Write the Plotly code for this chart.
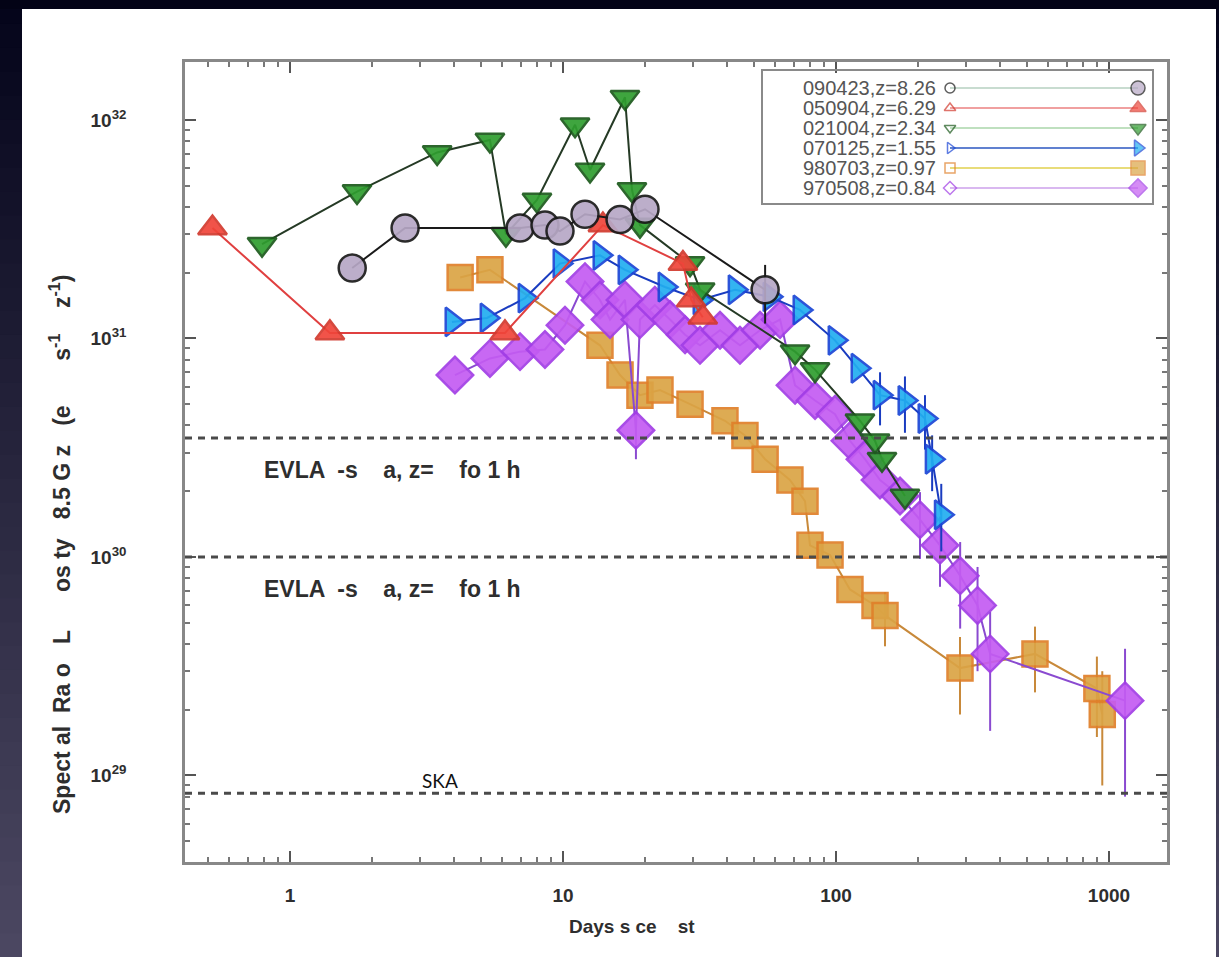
import plotly.graph_objects as go
import numpy as np

# ---------------- data (days since burst, spectral luminosity erg/s/Hz) ----------------
grb_090423_t = [1.69, 2.64, 6.96, 8.59, 9.75, 12.04, 16.18, 19.97, 55.0]
grb_090423_L = [2.1e31, 3.2e31, 3.2e31, 3.3e31, 3.1e31, 3.7e31, 3.5e31, 3.9e31, 1.67e31]
grb_090423_eu = [0, 0, 0, 0, 0, 0, 0, 0, 0.5e31]
grb_090423_ed = [0, 0, 0, 0, 0, 0, 0, 0, 0.5e31]

grb_050904_t = [0.52, 1.40, 6.13, 14.0, 27.5, 29.5, 32.5]
grb_050904_L = [3.2e31, 1.06e31, 1.06e31, 3.3e31, 2.2e31, 1.5e31, 1.25e31]

grb_021004_t = [0.79, 1.76, 3.46, 5.40, 6.18, 8.03, 11.07, 12.56, 16.87, 17.89, 19.14,
                29.2, 31.8, 70.8, 83.8, 122.4, 139.0, 147.4, 178.9]
grb_021004_L = [2.7e31, 4.7e31, 7.1e31, 8.1e31, 3.0e31, 4.3e31, 9.5e31, 5.9e31, 1.27e32, 4.8e31, 3.3e31,
                2.2e31, 1.67e31, 8.7e30, 7.2e30, 4.2e30, 3.4e30, 2.8e30, 1.9e30]

grb_070125_t = [3.92, 5.27, 7.26, 9.75, 13.66, 16.87, 23.64, 31.76, 42.7, 57.3, 73.8,
                99.2, 120.4, 145.0, 178.9, 211.8, 225.0, 243.0]
grb_070125_L = [1.19e31, 1.24e31, 1.53e31, 2.2e31, 2.4e31, 2.06e31, 1.72e31, 1.5e31, 1.67e31, 1.55e31, 1.35e31,
                9.8e30, 7.3e30, 5.5e30, 5.2e30, 4.3e30, 2.8e30, 1.56e30]
grb_070125_eu = [0, 0, 0, 0, 0, 0, 0, 0, 0, 0, 0, 0, 0, 1.5e30, 1.5e30, 1.2e30, 0.8e30, 0.6e30]
grb_070125_ed = [0, 0, 0, 0, 0, 0, 0, 0, 0, 0, 0, 0, 0, 1.5e30, 1.5e30, 1.2e30, 0.8e30, 0.5e30]

grb_980703_t = [4.20, 5.40, 13.66, 16.18, 19.14, 22.66, 29.2, 39.2, 46.4, 55.0, 67.8,
                77.0, 80.3, 95.1, 112.5, 139.0, 151.2, 284.6, 535.7, 903.0, 945.0]
grb_980703_L = [1.9e31, 2.06e31, 9.3e30, 6.8e30, 5.5e30, 5.8e30, 5.0e30, 4.2e30, 3.6e30, 2.8e30, 2.25e30,
                1.8e30, 1.13e30, 1.02e30, 7.1e29, 6.0e29, 5.4e29, 3.1e29, 3.6e29, 2.5e29, 1.9e29]
grb_980703_eu = [0, 0, 0, 0, 0, 0, 0, 0, 0, 0, 0,
                 0, 0, 0, 0, 0, 1.5e29, 1.2e29, 1.2e29, 1.0e29, 1.1e29]
grb_980703_ed = [0, 0, 0, 0, 0, 0, 0, 0, 0, 0, 0,
                 0, 0, 0, 0, 0, 1.5e29, 1.2e29, 1.2e29, 1.0e29, 1.0e29]

grb_970508_t = [4.02, 5.40, 6.96, 8.59, 10.17, 12.04, 13.66, 14.87, 16.87, 18.5, 19.14, 21.7,
                24.66, 28.0, 31.76, 37.6, 44.5, 52.7, 62.4, 70.8, 83.8, 99.2,
                112.5, 127.7, 145.0, 171.6, 203.1, 240.4, 285.0, 330.0, 367.0, 1145.0]
grb_970508_L = [6.8e30, 8.1e30, 8.7e30, 8.9e30, 1.15e31, 1.82e31, 1.5e31, 1.22e31, 1.5e31, 3.8e30, 1.22e31, 1.42e31,
                1.22e31, 1.04e31, 9.3e30, 1.09e31, 9.3e30, 1.09e31, 1.22e31, 6.1e30, 5.2e30, 4.5e30,
                3.4e30, 2.8e30, 2.25e30, 1.9e30, 1.48e30, 1.13e30, 8.2e29, 6.0e29, 3.6e29, 2.2e29]
grb_970508_eu = [0] * 9 + [0.8e30] + [0] * 16 + [0.5e30, 0.4e30, 0.35e30, 0.3e30, 0.2e30, 1.6e29]
grb_970508_ed = [0] * 9 + [1.0e30] + [0] * 16 + [0.5e30, 0.4e30, 0.35e30, 0.3e30, 0.2e30, 1.4e29]

# sensitivity limits
limit_values = [3.5e30, 1.0e30, 8.3e28]
limit_labels = ["EVLA  -s    a, z=    fo 1 h", "EVLA  -s    a, z=    fo 1 h", ""]

legend_labels = ["090423,z=8.26", "050904,z=6.29", "021004,z=2.34",
                 "070125,z=1.55", "980703,z=0.97", "970508,z=0.84"]

y_tick_vals = [1e29, 1e30, 1e31, 1e32]
y_tick_text = ["10<sup>29</sup>", "10<sup>30</sup>", "10<sup>31</sup>", "10<sup>32</sup>"]
x_tick_vals = [1, 10, 100, 1000]
x_tick_text = ["1", "10", "100", "1000"]

x_title = "Days s ce    st"
y_title = ("Spect al  Ra o   L      os ty   8.5 G z   (e       "
           "s<sup>-1</sup>    z<sup>-1</sup>)")

# ---------------- styles ----------------
series = [
    # name, t, L, eu, ed, symbol, fill, edge, line color, size, legend line color
    ("980703", grb_980703_t, grb_980703_L, grb_980703_eu, grb_980703_ed, "square", "#dba445", "#e0802a", "#c8893a", 25, "#e8dc7a"),
    ("970508", grb_970508_t, grb_970508_L, grb_970508_eu, grb_970508_ed, "diamond", "#c45cf2", "#a23ee6", "#8a4ad0", 28, "#d9b8f0"),
    ("070125", grb_070125_t, grb_070125_L, grb_070125_eu, grb_070125_ed, "triangle-right", "#22aef0", "#1b46d6", "#1a3cc0", 25, "#6080d0"),
    ("021004", grb_021004_t, grb_021004_L, None, None, "triangle-down", "#2f9e2f", "#1c5a1c", "#253a25", 25, "#bfe0bf"),
    ("050904", grb_050904_t, grb_050904_L, None, None, "triangle-up", "#f0453a", "#d23a2e", "#e04040", 25, "#f0a0a0"),
    ("090423", grb_090423_t, grb_090423_L, grb_090423_eu, grb_090423_ed, "circle", "#b7a8c6", "#1a1a1a", "#1a1a1a", 27, "#c8dcd0"),
]
legend_order = ["090423", "050904", "021004", "070125", "980703", "970508"]

fig = go.Figure()

for name, t, L, eu, ed, sym, fill, edge, lc, size, _ in series:
    err = None
    if eu is not None:
        err = dict(type="data", symmetric=False, array=eu, arrayminus=ed,
                   color=lc, thickness=2, width=0)
    fig.add_trace(go.Scatter(
        x=t, y=L, mode="lines+markers", name=name,
        line=dict(color=lc, width=2),
        marker=dict(symbol=sym, size=size, color=fill, line=dict(color=edge, width=2.5), opacity=0.92),
        error_y=err, showlegend=False, hoverinfo="skip"))

# ---------------- pixel helpers for decorations ----------------
PX0, PW = 185.0, 982.0
PY1, PH = 862.0, 800.0
def px_to_paper_x(p):
    return (p - PX0) / PW
def px_to_paper_y(p):
    return (PY1 - p) / PH

# ---------------- custom legend (IDL style: label, symbol, line, symbol) ----------------
legend_rows_px = [88, 108, 128, 148, 168, 188]
style_by_name = {s[0]: s for s in series}
annotations = []
for i, name in enumerate(legend_order):
    s = style_by_name[name]
    yy = px_to_paper_y(legend_rows_px[i])
    fig.add_trace(go.Scatter(
        x=[px_to_paper_x(950), px_to_paper_x(1138)], y=[yy, yy],
        xaxis="x2", yaxis="y2", mode="lines+markers",
        line=dict(color=s[10], width=2),
        marker=dict(symbol=s[5], size=[10, 14], color=["rgba(0,0,0,0)", s[6]],
                    line=dict(color=s[7], width=1.5)),
        showlegend=False, hoverinfo="skip"))
    annotations.append(dict(x=px_to_paper_x(938), y=yy, xref="paper", yref="paper",
                            text=legend_labels[i], showarrow=False, xanchor="right", yanchor="middle",
                            font=dict(family="Liberation Sans", size=20, color="#555555")))

shapes = []
shapes.append(dict(type="rect", xref="paper", yref="paper",
                   x0=px_to_paper_x(762), x1=px_to_paper_x(1153),
                   y0=px_to_paper_y(204), y1=px_to_paper_y(70),
                   line=dict(color="#8a8a8a", width=2), fillcolor="rgba(0,0,0,0)", layer="above"))

# sensitivity lines
for v in limit_values:
    shapes.append(dict(type="line", xref="paper", yref="y", x0=0, x1=1, y0=v, y1=v,
                       line=dict(color="#4a4a4a", width=3, dash="7px,6px"), layer="above"))

# slide dark borders (gradient in strips)
def lerp(c1, c2, f):
    return "rgb(%d,%d,%d)" % tuple(int(round(a + (b - a) * f)) for a, b in zip(c1, c2))
top_col = (4, 4, 26)
bot_col = (76, 72, 98)
nstrip = 40
for k in range(nstrip):
    f0 = k / nstrip
    f1 = (k + 1) / nstrip
    y0p = px_to_paper_y(957 * f1 + 1)
    y1p = px_to_paper_y(957 * f0)
    col = lerp(top_col, bot_col, (k + 0.5) / nstrip)
    shapes.append(dict(type="rect", xref="paper", yref="paper",
                       x0=px_to_paper_x(0), x1=px_to_paper_x(22), y0=y0p, y1=y1p,
                       line=dict(width=0), fillcolor=col, layer="below"))
    shapes.append(dict(type="rect", xref="paper", yref="paper",
                       x0=px_to_paper_x(1216), x1=px_to_paper_x(1220), y0=y0p, y1=y1p,
                       line=dict(width=0), fillcolor=col, layer="below"))
shapes.append(dict(type="rect", xref="paper", yref="paper",
                   x0=px_to_paper_x(0), x1=px_to_paper_x(1220),
                   y0=px_to_paper_y(9), y1=px_to_paper_y(-1),
                   line=dict(width=0), fillcolor="rgb(3,3,22)", layer="below"))

label_font = dict(family="Liberation Sans", size=23, color="#2e2e2e", weight="bold")
for i, v in enumerate(limit_values):
    if limit_labels[i]:
        annotations.append(dict(x=px_to_paper_x(262), y=np.log10(v), xref="paper", yref="y",
                                yshift=-32, text=limit_labels[i], showarrow=False,
                                xanchor="left", yanchor="middle", font=label_font))
annotations.append(dict(x=px_to_paper_x(440), y=px_to_paper_y(780), xref="paper", yref="paper",
                        text="SKA", showarrow=False, xanchor="center", yanchor="middle",
                        font=dict(family="Lato", size=19, color="#111111")))
# axis titles
annotations.append(dict(x=px_to_paper_x(632), y=px_to_paper_y(926), xref="paper", yref="paper",
                        text=x_title, showarrow=False, xanchor="center", yanchor="middle",
                        font=dict(family="Liberation Sans", size=19, color="#2e2e2e", weight="bold")))
annotations.append(dict(x=px_to_paper_x(60), y=px_to_paper_y(545), xref="paper", yref="paper",
                        text=y_title, showarrow=False, xanchor="center", yanchor="middle",
                        textangle=-90,
                        font=dict(family="Liberation Sans", size=23, color="#2e2e2e", weight="bold")))

tick_font = dict(family="Liberation Sans", size=19, color="#2e2e2e", weight="bold")
axis_common = dict(type="log", ticks="inside", ticklen=11, tickwidth=2, tickcolor="#555555",
                   minor=dict(ticks="inside", ticklen=5, tickwidth=1.5, tickcolor="#777777",
                              dtick="D1", showgrid=False),
                   showline=True, linecolor="#888888", linewidth=2.5, mirror="ticks",
                   showgrid=False, zeroline=False, tickfont=tick_font)

fig.update_layout(
    width=1219, height=957,
    margin=dict(l=185, r=52, t=62, b=95),
    paper_bgcolor="white", plot_bgcolor="white",
    showlegend=False,
    shapes=shapes,
    annotations=annotations,
    xaxis=dict(range=[-0.3846, 3.2125], tickvals=x_tick_vals, ticktext=x_tick_text,
               ticklabelstandoff=14, **axis_common),
    yaxis=dict(range=[28.604, 32.265], tickvals=y_tick_vals, ticktext=y_tick_text,
               ticklabelstandoff=52, **axis_common),
    xaxis2=dict(overlaying="x", range=[0, 1], visible=False, domain=[0, 1]),
    yaxis2=dict(overlaying="y", range=[0, 1], visible=False, domain=[0, 1]),
)

fig.write_html("out.html")
